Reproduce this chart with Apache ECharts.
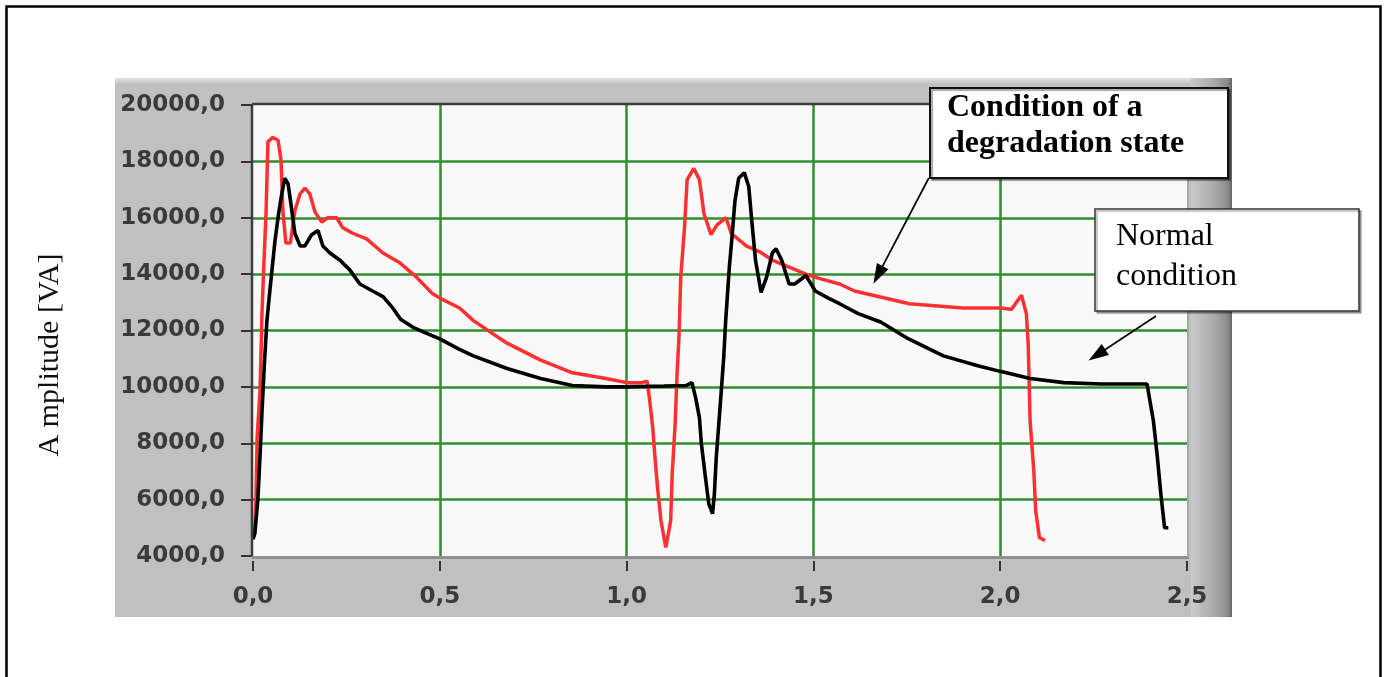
<!DOCTYPE html>
<html>
<head>
<meta charset="utf-8">
<title>Amplitude [VA]</title>
<script src="https://cdn.jsdelivr.net/npm/echarts@6/dist/echarts.min.js"></script>
<style>
    html, body { margin: 0; padding: 0; background: #fff; }
    #chart { width: 1385px; height: 677px; }
</style>
</head>
<body>
<div id="chart"></div>
<script>
// time axis [s] and apparent power [VA]
const normalX = [0.000, 0.005, 0.013, 0.019, 0.024, 0.030, 0.037, 0.045, 0.059, 0.068,
    0.077, 0.085, 0.094, 0.104, 0.112, 0.126, 0.139, 0.157, 0.174, 0.187,
    0.206, 0.232, 0.259, 0.286, 0.320, 0.348, 0.374, 0.395, 0.430, 0.465,
    0.500, 0.550, 0.590, 0.680, 0.770, 0.855, 0.945, 1.000, 1.100, 1.160,
    1.175, 1.185, 1.195, 1.200, 1.210, 1.220, 1.230, 1.235, 1.240, 1.250,
    1.260, 1.265, 1.275, 1.282, 1.290, 1.300, 1.315, 1.327, 1.335, 1.345,
    1.360, 1.375, 1.390, 1.400, 1.415, 1.435, 1.450, 1.480, 1.505, 1.540,
    1.570, 1.620, 1.680, 1.755, 1.848, 1.940, 2.000, 2.080, 2.170, 2.270,
    2.393, 2.410, 2.420, 2.430, 2.440, 2.450];
const normalY = [4600, 4800, 6000, 7600, 9100, 10700, 12300, 13400, 15200, 16100,
    16850, 17400, 17200, 16250, 15450, 15000, 15000, 15400, 15550, 15000,
    14750, 14500, 14150, 13650, 13400, 13200, 12800, 12400, 12100, 11900,
    11700, 11350, 11100, 10650, 10300, 10050, 10000, 10000, 10030, 10050,
    10150, 9600, 8900, 8000, 6900, 5850, 5500, 6200, 7500, 9250,
    11050, 12300, 14250, 15300, 16600, 17400, 17600, 17100, 15900, 14500,
    13350, 13900, 14750, 14900, 14500, 13650, 13650, 13950, 13400, 13150,
    12950, 12600, 12300, 11700, 11100, 10750, 10550, 10300, 10150, 10100,
    10100, 8800, 7600, 6200, 5000, 5000];

const degradedX = [0.000, 0.005, 0.008, 0.011, 0.019, 0.024, 0.028, 0.035, 0.040, 0.053,
    0.067, 0.075, 0.080, 0.088, 0.100, 0.112, 0.126, 0.139, 0.152, 0.166,
    0.184, 0.200, 0.224, 0.240, 0.267, 0.304, 0.348, 0.393, 0.437, 0.481,
    0.500, 0.553, 0.590, 0.680, 0.770, 0.855, 0.945, 1.000, 1.040, 1.055,
    1.062, 1.070, 1.076, 1.083, 1.092, 1.105, 1.118, 1.122, 1.130, 1.135,
    1.140, 1.145, 1.155, 1.162, 1.180, 1.195, 1.207, 1.226, 1.242, 1.266,
    1.280, 1.320, 1.355, 1.390, 1.435, 1.480, 1.515, 1.570, 1.610, 1.757,
    1.900, 2.000, 2.030, 2.057, 2.070, 2.075, 2.080, 2.090, 2.095, 2.105,
    2.120];
const degradedY = [4600, 5000, 6000, 8200, 9900, 12600, 14000, 16200, 18700, 18850,
    18750, 18050, 16250, 15100, 15100, 16250, 16850, 17050, 16850, 16200,
    15850, 16000, 16000, 15650, 15450, 15250, 14750, 14400, 13900, 13300,
    13150, 12800, 12350, 11550, 10950, 10500, 10300, 10150, 10150, 10200,
    9500, 8550, 7500, 6400, 5250, 4300, 5250, 6900, 8700, 10450,
    11700, 13900, 15650, 17350, 17750, 17350, 16150, 15400, 15750, 16000,
    15450, 15000, 14800, 14500, 14250, 14000, 13850, 13650, 13400, 12950,
    12800, 12800, 12750, 13250, 12600, 11500, 8800, 7000, 5600, 4650,
    4550];

const xTicks = [0, 0.5, 1.0, 1.5, 2.0, 2.5];
const yTicks = [4000, 6000, 8000, 10000, 12000, 14000, 16000, 18000, 20000];

const yTitle = "A mplitude [VA]";
const noteDegraded = ["Condition of a", "degradation state"];
const noteNormal = ["Normal", "condition"];

// layout
const G = { left: 253, top: 105, width: 934, height: 451 };
const G_RIGHT = G.left + G.width;
const G_BOTTOM = G.top + G.height;

const pairs = (xs, ys) => xs.map((x, i) => [x, ys[i]]);
const comma = (v) => v.toFixed(1).replace(".", ",");

const labelStyle = {
    color: "#3a3a3a",
    fontFamily: "DejaVu Sans",
    fontSize: 23,
    fontWeight: "bold"
};
const gridGreen = { color: "#2f8f2f", width: 2.5 };

const chart = echarts.init(document.getElementById("chart"));

chart.setOption({
    animation: false,
    grid: { left: G.left, top: G.top, width: G.width, height: G.height, show: false },
    xAxis: {
        type: "value",
        min: xTicks[0],
        max: xTicks[xTicks.length - 1],
        interval: xTicks[1] - xTicks[0],
        offset: 5,
        axisLine: { show: false },
        axisTick: { show: true, length: 10, lineStyle: { color: "#333", width: 2 } },
        axisLabel: Object.assign({ margin: 25, formatter: comma }, labelStyle),
        splitLine: { show: true, showMinLine: false, showMaxLine: false, lineStyle: gridGreen }
    },
    yAxis: {
        type: "value",
        min: yTicks[0],
        max: yTicks[yTicks.length - 1],
        interval: yTicks[1] - yTicks[0],
        offset: 6,
        axisLine: { show: false },
        axisTick: { show: true, length: 12, lineStyle: { color: "#333", width: 2 } },
        axisLabel: Object.assign({ margin: 22, formatter: comma }, labelStyle),
        splitLine: { show: true, showMinLine: false, showMaxLine: false, lineStyle: gridGreen }
    },
    series: [
        {
            name: "degradation state",
            type: "line",
            data: pairs(degradedX, degradedY),
            showSymbol: false,
            silent: true,
            lineStyle: { color: "#ff3030", width: 3.5 }
        },
        {
            name: "normal condition",
            type: "line",
            data: pairs(normalX, normalY),
            showSymbol: false,
            silent: true,
            lineStyle: { color: "#000", width: 3.6 },
            // arrows from the note boxes to the curves
            markLine: {
                silent: true,
                symbol: ["none", "triangle"],
                symbolSize: [13, 20],
                label: { show: false },
                lineStyle: { color: "#000", width: 1.7, type: "solid" },
                emphasis: { disabled: true },
                data: [
                    [{ coord: [1.809, 17410] }, { coord: [1.673, 13970] }],
                    [{ coord: [2.417, 12515] }, { coord: [2.259, 11130] }]
                ]
            }
        }
    ],
    graphic: [
        // outer frame of the figure
        { type: "rect", z: -10, shape: { x: 6.5, y: 6.5, width: 1374, height: 720 },
          style: { fill: "none", stroke: "#000", lineWidth: 2.5 } },
        // grey control panel
        { type: "rect", z: -5, shape: { x: 115, y: 78, width: 1117, height: 539 },
          style: { fill: "#c0c0c0" } },
        { type: "rect", z: -4, shape: { x: 115, y: 78, width: 1117, height: 6 },
          style: { fill: new echarts.graphic.LinearGradient(0, 0, 0, 1, [
              { offset: 0, color: "#e2e2e2" }, { offset: 1, color: "#c0c0c0" }]) } },
        { type: "rect", z: -4, shape: { x: 1191, y: 78, width: 41, height: 539 },
          style: { fill: new echarts.graphic.LinearGradient(0, 0, 1, 0, [
              { offset: 0, color: "#cacaca" }, { offset: 0.55, color: "#ababab" },
              { offset: 0.9, color: "#8a8a8a" }, { offset: 1, color: "#666" }]) } },
        // plot background
        { type: "rect", z: -3, shape: { x: G.left, y: G.top, width: G.width, height: G.height },
          style: { fill: "#f9f9f9" } },
        // plot frame: dark top/left, light bottom/right
        { type: "line", z: 5, shape: { x1: G.left - 1, y1: G.top - 1, x2: G_RIGHT + 1, y2: G.top - 1 },
          style: { stroke: "#3c3c3c", lineWidth: 2.5 } },
        { type: "line", z: 5, shape: { x1: G.left - 1, y1: G.top - 1, x2: G.left - 1, y2: G_BOTTOM + 1 },
          style: { stroke: "#3c3c3c", lineWidth: 2.5 } },
        { type: "line", z: 5, shape: { x1: G.left - 1, y1: G_BOTTOM + 1.5, x2: G_RIGHT + 2, y2: G_BOTTOM + 1.5 },
          style: { stroke: "#8f8f8f", lineWidth: 3 } },
        { type: "line", z: 5, shape: { x1: G_RIGHT + 1, y1: G.top - 1, x2: G_RIGHT + 1, y2: G_BOTTOM + 1 },
          style: { stroke: "#a9a9a9", lineWidth: 2 } },
        // y axis title
        { type: "text", z: 5, x: 50, y: 355, rotation: Math.PI / 2,
          style: { text: yTitle, align: "center", verticalAlign: "middle",
                   font: '30px "Liberation Serif"', fill: "#111" } },
        // note: degradation state
        { type: "rect", z: 10, shape: { x: 930, y: 88, width: 298, height: 90 },
          style: { fill: "#fff", stroke: "#111", lineWidth: 2,
                   shadowColor: "rgba(0,0,0,0.35)", shadowOffsetX: 2, shadowOffsetY: 2, shadowBlur: 1 } },
        { type: "text", z: 11, x: 947, y: 108,
          style: { text: noteDegraded[0], verticalAlign: "middle", font: 'bold 32px "Liberation Serif"', fill: "#000" } },
        { type: "text", z: 11, x: 947, y: 144,
          style: { text: noteDegraded[1], verticalAlign: "middle", font: 'bold 32px "Liberation Serif"', fill: "#000" } },
        // note: normal condition
        { type: "rect", z: 10, shape: { x: 1095, y: 209, width: 264, height: 102 },
          style: { fill: "#fff", stroke: "#333", lineWidth: 1.5,
                   shadowColor: "rgba(0,0,0,0.3)", shadowOffsetX: 2, shadowOffsetY: 2, shadowBlur: 1 } },
        { type: "text", z: 11, x: 1116, y: 237,
          style: { text: noteNormal[0], verticalAlign: "middle", font: '32px "Liberation Serif"', fill: "#000" } },
        { type: "text", z: 11, x: 1116, y: 277,
          style: { text: noteNormal[1], verticalAlign: "middle", font: '32px "Liberation Serif"', fill: "#000" } }
    ]
});
</script>
</body>
</html>
